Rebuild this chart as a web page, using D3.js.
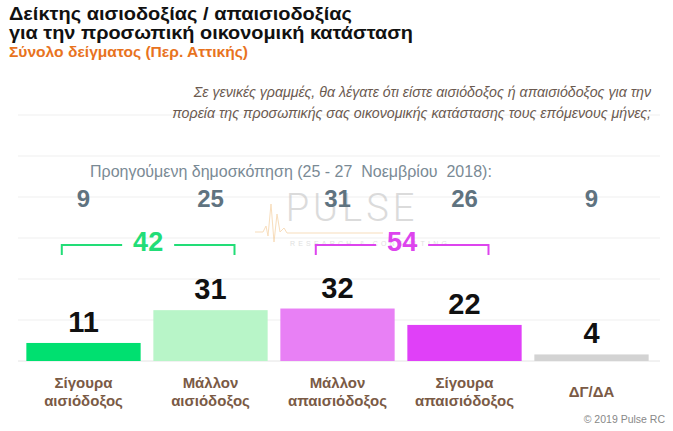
<!DOCTYPE html>
<html>
<head>
<meta charset="utf-8">
<script src="https://cdn.jsdelivr.net/npm/d3@7"></script>
<style>
  body { margin: 0; background: #fff; }
  svg { display: block; font-family: "Liberation Sans", Arial, sans-serif; }
  .num { font-weight: bold; }
</style>
</head>
<body>
<svg id="chart" width="673" height="431"></svg>
<script>
const categories = ['Σίγουρα αισιόδοξος', 'Μάλλον αισιόδοξος', 'Μάλλον απαισιόδοξος', 'Σίγουρα απαισιόδοξος', 'ΔΓ/ΔΑ'];
const labelLines = [['Σίγουρα', 'αισιόδοξος'], ['Μάλλον', 'αισιόδοξος'], ['Μάλλον', 'απαισιόδοξος'], ['Σίγουρα', 'απαισιόδοξος'], ['ΔΓ/ΔΑ']];
const values = [11, 31, 32, 22, 4];
const previous = [9, 25, 31, 26, 9];
const colors = ['#00e070', '#b8f5c8', '#e880f5', '#e040f8', '#d3d3d3'];
const groups = [
  {label: 42, from: 0, to: 1, color: '#22dd77'},
  {label: 54, from: 2, to: 3, color: '#dd44ee'}
];
const gridTicks = [0, 25, 50, 75, 100, 125, 150];

const svg = d3.select('#chart');

// titles
svg.append('text').attr('x', 9).attr('y', 20)
  .attr('font-size', 18).attr('font-weight', 'bold').attr('fill', '#111')
  .attr('textLength', 343).attr('lengthAdjust', 'spacingAndGlyphs')
  .text('Δείκτης αισιοδοξίας / απαισιοδοξίας');
svg.append('text').attr('x', 9).attr('y', 39)
  .attr('font-size', 18).attr('font-weight', 'bold').attr('fill', '#111')
  .attr('textLength', 404).attr('lengthAdjust', 'spacingAndGlyphs')
  .text('για την προσωπική οικονομική κατάσταση');
svg.append('text').attr('x', 9).attr('y', 57)
  .attr('font-size', 14.5).attr('font-weight', 'bold').attr('fill', '#e8731e')
  .attr('textLength', 239).attr('lengthAdjust', 'spacingAndGlyphs')
  .text('Σύνολο δείγματος (Περ. Αττικής)');

let x = d3.scaleBand()
  .domain(categories)
  .range([20, 655])
  .paddingInner(0.1)
  .paddingOuter(0.05);

let y = d3.scaleLinear()
  .domain([0, 150])
  .range([361, 115]);

// gridlines
svg.append('g')
  .selectAll('line')
  .data(gridTicks)
  .enter()
  .append('line')
  .attr('x1', 18).attr('x2', 660)
  .attr('y1', d => y(d)).attr('y2', d => y(d))
  .attr('stroke', d => d === 0 ? '#e4e4e4' : '#efefef')
  .attr('stroke-width', 1);

// question
svg.append('text').attr('x', 651).attr('y', 97)
  .attr('text-anchor', 'end').attr('font-size', 14.2).attr('font-style', 'italic').attr('fill', '#6b5a50')
  .text('Σε γενικές γραμμές, θα λέγατε ότι είστε αισιόδοξος ή απαισιόδοξος για την');
svg.append('text').attr('x', 651).attr('y', 118)
  .attr('text-anchor', 'end').attr('font-size', 14.2).attr('font-style', 'italic').attr('fill', '#6b5a50')
  .text('πορεία της προσωπικής σας οικονομικής κατάστασης τους επόμενους μήνες;');

// watermark
const wm = svg.append('g').attr('opacity', 0.6);
wm.append('text').attr('x', 352).attr('y', 221)
  .attr('text-anchor', 'middle').attr('font-size', 38).attr('fill', '#c4c4c4')
  .attr('font-family', 'Roboto, sans-serif').attr('font-weight', 300)
  .attr('letter-spacing', 4)
  .text('PULSE');
wm.append('text').attr('x', 290).attr('y', 246)
  .attr('font-size', 7).attr('fill', '#cccccc')
  .attr('letter-spacing', 3.2)
  .text('RESEARCH & CONSULTING');
wm.append('path')
  .attr('d', 'M255,232 L263,232 L266,226 L268,236 L271,204 L274,242 L277,214 L280,232 L284,228 L287,233 L383,233')
  .attr('fill', 'none').attr('stroke', '#f4c890').attr('stroke-width', 1);

// previous survey
svg.append('text').attr('x', 90).attr('y', 177)
  .attr('font-size', 16).attr('fill', '#7a8a95')
  .attr('xml:space', 'preserve')
  .text('Προηγούμενη δημοσκόπηση (25 - 27  Νοεμβρίου  2018):');

svg.append('g')
  .selectAll('text')
  .data(previous)
  .enter()
  .append('text')
  .attr('class', 'num')
  .attr('x', (d, i) => x(categories[i]) + x.bandwidth() / 2)
  .attr('y', 207)
  .attr('text-anchor', 'middle')
  .attr('font-size', 24)
  .attr('fill', '#5f7380')
  .text(d => d);

// group brackets
groups.forEach(g => {
  let x1 = x(categories[g.from]) + x.bandwidth() * 0.31;
  let x2 = x(categories[g.to]) + x.bandwidth() * 0.71;
  let mid = (x1 + x2) / 2;
  let by = 245;
  let gap = 26;
  let b = svg.append('g').attr('stroke', g.color).attr('stroke-width', 2).attr('fill', 'none');
  b.append('path').attr('d', `M${x1},${by + 10} L${x1},${by} L${mid - gap},${by}`);
  b.append('path').attr('d', `M${mid + gap},${by} L${x2},${by} L${x2},${by + 10}`);
  svg.append('text').attr('class', 'num')
    .attr('x', mid).attr('y', 251)
    .attr('text-anchor', 'middle').attr('font-size', 27).attr('fill', g.color)
    .text(g.label);
});

// bars
svg.append('g')
  .selectAll('rect')
  .data(values)
  .enter()
  .append('rect')
  .attr('x', (d, i) => x(categories[i]))
  .attr('y', d => y(d))
  .attr('width', x.bandwidth())
  .attr('height', d => y(0) - y(d))
  .attr('fill', (d, i) => colors[i]);

svg.append('g')
  .selectAll('text')
  .data(values)
  .enter()
  .append('text')
  .attr('class', 'num')
  .attr('x', (d, i) => x(categories[i]) + x.bandwidth() / 2)
  .attr('y', d => y(d) - 11)
  .attr('text-anchor', 'middle')
  .attr('font-size', 29)
  .attr('fill', '#111')
  .text(d => d);

// category labels
let cat = svg.append('g')
  .selectAll('text')
  .data(labelLines)
  .enter()
  .append('text')
  .attr('x', (d, i) => x(categories[i]) + x.bandwidth() / 2)
  .attr('y', d => d.length === 1 ? 397 : 388)
  .attr('text-anchor', 'middle')
  .attr('font-size', 15)
  .attr('font-weight', 'bold')
  .attr('fill', '#7a5a45');

cat.selectAll('tspan')
  .data(d => d)
  .enter()
  .append('tspan')
  .attr('x', function() { return d3.select(this.parentNode).attr('x'); })
  .attr('dy', (d, i) => i === 0 ? 0 : 18)
  .text(d => d);

svg.append('text').attr('x', 665).attr('y', 423)
  .attr('text-anchor', 'end').attr('font-size', 10.5).attr('fill', '#888')
  .text('© 2019 Pulse RC');
</script>
</body>
</html>
